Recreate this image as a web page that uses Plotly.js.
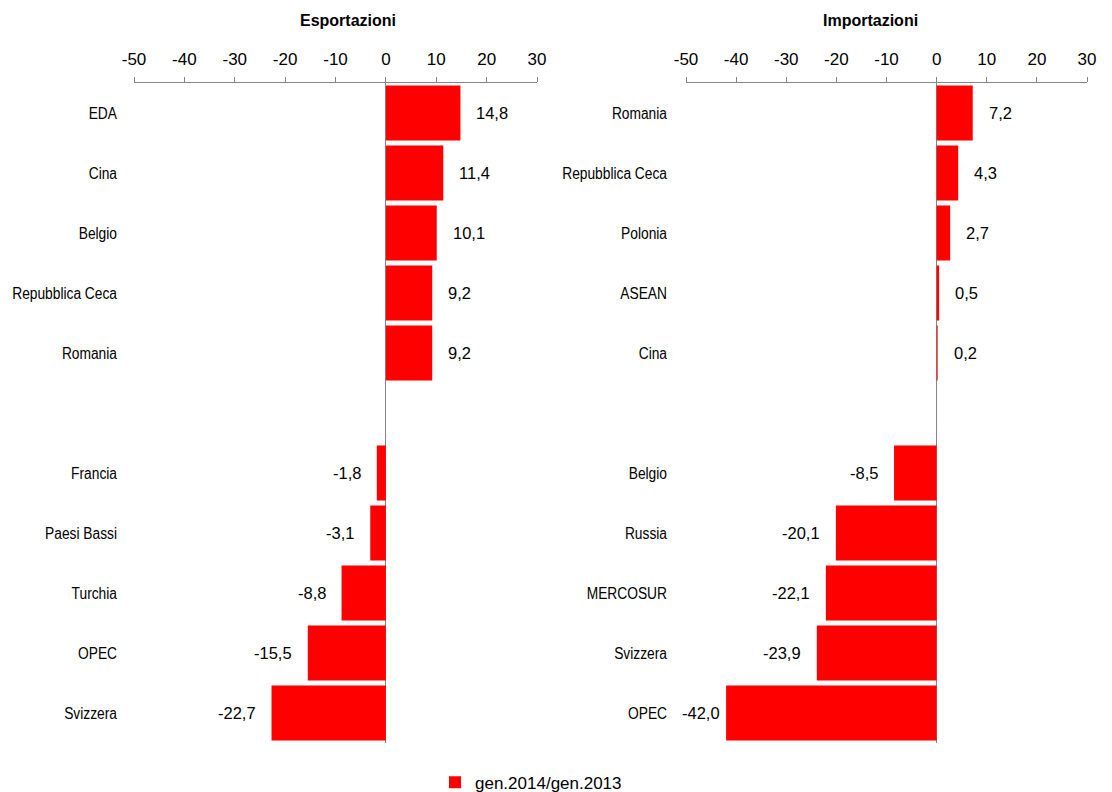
<!DOCTYPE html>
<html>
<head>
<meta charset="utf-8">
<script src="https://cdn.plot.ly/plotly-3.0.1.min.js"></script>
<style>html,body{margin:0;padding:0;background:#fff}#chart{width:1112px;height:792px}</style>
</head>
<body>
<div id="chart"></div>
<script>
// ---- data ----
const exportCategories = ["EDA", "Cina", "Belgio", "Repubblica Ceca", "Romania", " ", "Francia", "Paesi Bassi", "Turchia", "OPEC", "Svizzera"];
const exportValues = [14.8, 11.4, 10.1, 9.2, 9.2, null, -1.8, -3.1, -8.8, -15.5, -22.7];
const importCategories = ["Romania", "Repubblica Ceca", "Polonia", "ASEAN", "Cina", " ", "Belgio", "Russia", "MERCOSUR", "Svizzera", "OPEC"];
const importValues = [7.2, 4.3, 2.7, 0.5, 0.2, null, -8.5, -20.1, -22.1, -23.9, -42.0];
const seriesName = "gen.2014/gen.2013";
const panelTitles = ["Esportazioni", "Importazioni"];
const xTickVals = [-50, -40, -30, -20, -10, 0, 10, 20, 30];
const xTickText = xTickVals.map(v => String(v));

const FONT = "'Liberation Sans', Arial, sans-serif";
const fmt = v => v.toFixed(1).replace('.', ',');

const traces = [
  {type: 'bar', orientation: 'h', x: exportValues, y: exportCategories, xaxis: 'x', yaxis: 'y',
   name: seriesName, marker: {color: '#FF0000'}, showlegend: true, hoverinfo: 'x+y'},
  {type: 'bar', orientation: 'h', x: importValues, y: importCategories, xaxis: 'x2', yaxis: 'y2',
   name: seriesName, marker: {color: '#FF0000'}, showlegend: false, hoverinfo: 'x+y'}
];

function labels(cats, vals, xref, yref) {
  const out = [];
  vals.forEach((v, i) => {
    if (v === null) return;
    const shift = v >= 0 ? 14 : (v < -40 ? -4 : -14);
    out.push({x: v, y: cats[i], xref: xref, yref: yref, text: fmt(v), showarrow: false,
      xanchor: v >= 0 ? 'left' : 'right', yanchor: 'middle', xshift: shift,
      font: {family: FONT, size: 16.5, color: '#000'}});
  });
  return out;
}

const xAxisBase = {
  side: 'top', range: [-50, 30], tickmode: 'array', tickvals: xTickVals, ticktext: xTickText,
  showline: true, linecolor: '#868686', linewidth: 1, ticks: 'outside', ticklen: 5,
  tickcolor: '#868686', showgrid: false, zeroline: true, zerolinecolor: '#868686',
  zerolinewidth: 1, tickfont: {family: FONT, size: 17, color: '#000'}, ticklabelstandoff: 5,
  fixedrange: true, automargin: false
};
const yAxisBase = {
  type: 'category', autorange: 'reversed', showline: false, showgrid: false,
  zeroline: false, ticks: '', tickfont: {family: FONT, size: 16, color: '#000'},
  ticklabelstandoff: 16, fixedrange: true, automargin: false
};

const titleY = (743 - 20) / 660;
const layout = {
  width: 1112, height: 792,
  margin: {l: 0, r: 0, t: 83, b: 49, autoexpand: false},
  paper_bgcolor: '#fff', plot_bgcolor: '#fff',
  bargap: 0.083,
  font: {family: FONT, size: 16, color: '#000'},
  xaxis: Object.assign({}, xAxisBase, {domain: [134/1112, 537/1112], anchor: 'y'}),
  yaxis: Object.assign({}, yAxisBase, {anchor: 'x', domain: [0, 1]}),
  xaxis2: Object.assign({}, xAxisBase, {domain: [686/1112, 1087/1112], anchor: 'y2'}),
  yaxis2: Object.assign({}, yAxisBase, {anchor: 'x2', domain: [0, 1], ticklabelstandoff: 18}),
  showlegend: true,
  legend: {orientation: 'h', x: 435/1112, xanchor: 'left', y: -0.06, yanchor: 'middle',
    font: {family: FONT, size: 17, color: '#000'}, itemwidth: 30, bgcolor: 'rgba(0,0,0,0)'},
  annotations: [
    {text: '<b>' + panelTitles[0] + '</b>', xref: 'paper', yref: 'paper', x: 348/1112, y: titleY, showarrow: false,
     xanchor: 'center', yanchor: 'middle', font: {family: FONT, size: 16, color: '#000'}},
    {text: '<b>' + panelTitles[1] + '</b>', xref: 'paper', yref: 'paper', x: 870/1112, y: titleY, showarrow: false,
     xanchor: 'center', yanchor: 'middle', font: {family: FONT, size: 16, color: '#000'}}
  ].concat(labels(exportCategories, exportValues, 'x', 'y'), labels(importCategories, importValues, 'x2', 'y2'))
};

Plotly.newPlot('chart', traces, layout, {displayModeBar: false, staticPlot: true}).then(() => {
  // condense the category labels horizontally (reference uses a narrow typeface)
  document.querySelectorAll('.ytick text, .y2tick text').forEach(t => {
    const w = t.getComputedTextLength();
    if (w > 0) {
      t.setAttribute('textLength', (w * 0.86).toFixed(1));
      t.setAttribute('lengthAdjust', 'spacingAndGlyphs');
    }
  });
});
</script>
</body>
</html>
